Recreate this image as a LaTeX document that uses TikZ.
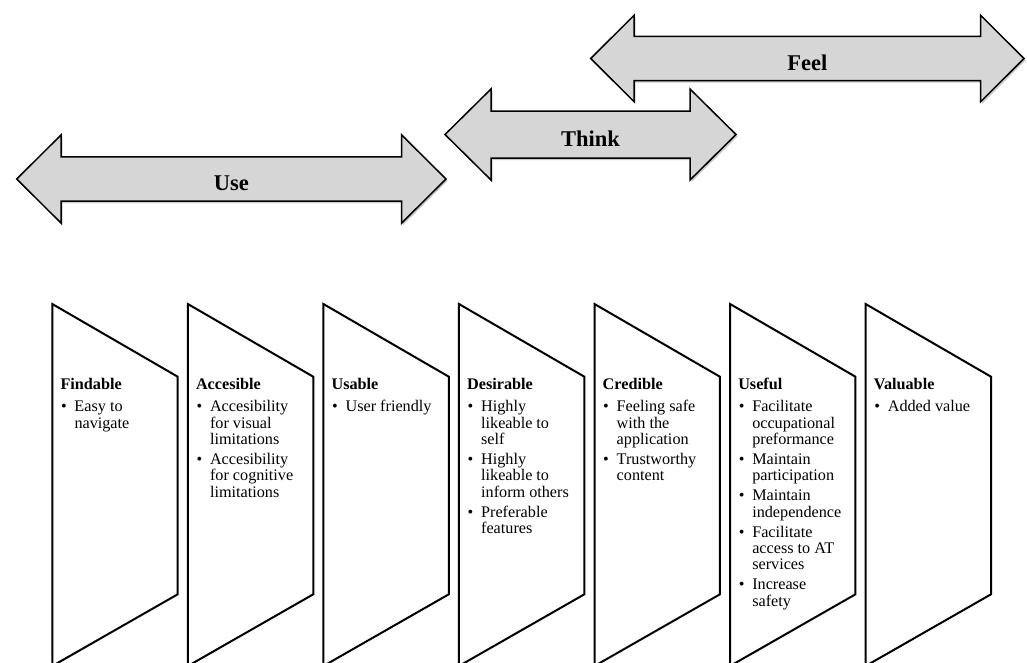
\documentclass[tikz,border=0pt]{standalone}
\usepackage{fontspec}
\setmainfont{Liberation Serif}
\usetikzlibrary{shadows}
\newcommand{\bli}[1]{\makebox[14pt][l]{\hspace{0.5pt}\textbullet}#1}
\newcommand{\cli}[1]{\hspace*{14pt}#1}
\tikzset{
  panelshape/.style={draw=black, line width=2pt, line join=miter, fill=white},
  arrowshape/.style={draw=black, line width=1.5pt, fill=black!16, line join=miter,
    drop shadow={shadow xshift=1.5pt, shadow yshift=-2pt, opacity=.35, fill=black!60}},
  arrowlabel/.style={font=\fontsize{22.5}{24}\selectfont\bfseries, inner sep=0pt},
  paneltext/.style={anchor=north west, align=left, inner sep=0pt, font=\fontsize{16.2}{16.3}\selectfont},
}
% name, xl, xr, yc, head length, head half, shaft half, label
\newcommand{\dblarr}[8]{%
  \draw[arrowshape] (#2,#4) -- ({#2+#5},{#4-#6}) -- ({#2+#5},{#4-#7}) -- ({#3-#5},{#4-#7})
    -- ({#3-#5},{#4-#6}) -- (#3,#4) -- ({#3-#5},{#4+#6}) -- ({#3-#5},{#4+#7})
    -- ({#2+#5},{#4+#7}) -- ({#2+#5},{#4+#6}) -- cycle;
  \node[arrowlabel] (#1) at ({(#2+#3)/2},{#4+4}) {#8};
}
% name, x0, text
\newcommand{\panelbox}[3]{%
  \draw[panelshape] (#2,304) -- ({#2+125.4},376.7) -- ({#2+125.4},594.3) -- (#2,666) -- cycle;
  \node[paneltext] (#1) at ({#2+8},{389-11.41}) {\strut#3};
}
\begin{document}
\begin{tikzpicture}[x=1pt,y=-1pt]
\useasboundingbox (0,0) rectangle (1027,662);
\clip (0,0) rectangle (1027,662);
\fill[white] (0,0) rectangle (1027,662);

\dblarr{use}{16.7}{446}{179}{44.3}{44}{22.2}{Use}
\dblarr{think}{445}{736}{134.5}{46}{45.5}{23.5}{Think}
\dblarr{feel}{590.7}{1024}{58.5}{43.5}{43.3}{22.2}{Feel}

\panelbox{findable}{52.3}{\textbf{Findable}\\[6.4pt]
  \bli{Easy to}\\ \cli{navigate}}
\panelbox{accesible}{187.85}{\textbf{Accesible}\\[6.4pt]
  \bli{Accesibility}\\ \cli{for visual}\\ \cli{limitations}\\[3.7pt]
  \bli{Accesibility}\\ \cli{for cognitive}\\ \cli{limitations}}
\panelbox{usable}{323.4}{\textbf{Usable}\\[6.4pt]
  \bli{User friendly}}
\panelbox{desirable}{458.95}{\textbf{Desirable}\\[6.4pt]
  \bli{Highly}\\ \cli{likeable to}\\ \cli{self}\\[3.7pt]
  \bli{Highly}\\ \cli{likeable to}\\ \cli{inform others}\\[3.7pt]
  \bli{Preferable}\\ \cli{features}}
\panelbox{credible}{594.5}{\textbf{Credible}\\[6.4pt]
  \bli{Feeling safe}\\ \cli{with the}\\ \cli{application}\\[3.7pt]
  \bli{Trustworthy}\\ \cli{content}}
\panelbox{useful}{730.05}{\textbf{Useful}\\[6.4pt]
  \bli{Facilitate}\\ \cli{occupational}\\ \cli{preformance}\\[3.7pt]
  \bli{Maintain}\\ \cli{participation}\\[3.7pt]
  \bli{Maintain}\\ \cli{independence}\\[3.7pt]
  \bli{Facilitate}\\ \cli{access to AT}\\ \cli{services}\\[3.7pt]
  \bli{Increase}\\ \cli{safety}}
\panelbox{valuable}{865.6}{\textbf{Valuable}\\[6.4pt]
  \bli{Added value}}
\end{tikzpicture}
\end{document}
